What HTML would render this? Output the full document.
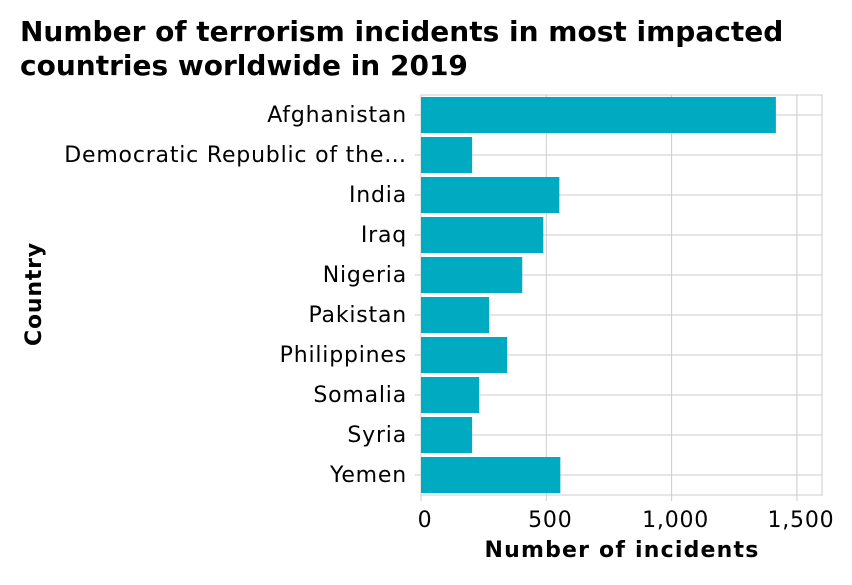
<!DOCTYPE html>
<html><head><meta charset="utf-8"><style>
body{margin:0;background:#fff;font-family:"Liberation Sans","DejaVu Sans",sans-serif;}
</style></head><body>
<svg width="852" height="580" id="chart" font-family="'DejaVu Sans','Liberation Sans',sans-serif">
<text x="20" y="41" font-size="28" font-weight="bold">Number of terrorism incidents in most impacted</text>
<text x="20" y="75" font-size="28" font-weight="bold">countries worldwide in 2019</text>
<text x="0" y="0" font-size="22" font-weight="bold" letter-spacing="0.8" text-anchor="middle" transform="translate(41,294) rotate(-90)">Country</text>
<text x="622" y="557" font-size="22" font-weight="bold" letter-spacing="1.2" text-anchor="middle">Number of incidents</text>
<g id="grid"></g><g id="bars"></g><g id="labels"></g>
</svg>
<script>
const categories=["Afghanistan","Democratic Republic of the…","India","Iraq","Nigeria","Pakistan","Philippines","Somalia","Syria","Yemen"];
const values=[1416,204,552,488,404,272,344,232,204,556];
const ticks=[0,500,1000,1500];
const tickLabels=["0","500","1,000","1,500"];
const NS="http://www.w3.org/2000/svg";
const x0=421,x1=822,yTop=95,yBot=495,maxV=1600;
const xs=v=>x0+v*(x1-x0)/maxV;
const band=(yBot-yTop)/categories.length;
const ys=i=>yTop+i*band;
function mk(t,a,p){const e=document.createElementNS(NS,t);for(const k in a)e.setAttribute(k,a[k]);p.appendChild(e);return e;}
const grid=document.getElementById('grid'),bars=document.getElementById('bars'),labels=document.getElementById('labels');
mk('rect',{x:x0,y:yTop,width:x1-x0,height:yBot-yTop,fill:'none',stroke:'#ccc'},grid);
ticks.forEach((t,i)=>{
 const l=mk('line',{x1:xs(t),x2:xs(t),y1:yTop,y2:yBot+6,stroke:'#ccc'},grid);
 
 
 const tx=mk('text',{x:xs(t)+4,y:527,'font-size':22,'letter-spacing':0.8,'text-anchor':'middle'},labels);
 tx.textContent=tickLabels[i];
 
 
});
categories.forEach((c,i)=>{
 const cy=ys(i)+band/2;
 mk('line',{x1:x0-6,x2:x1,y1:cy,y2:cy,stroke:'#ccc'},grid);
 const r=mk('rect',{x:x0,y:ys(i)+2,width:xs(values[i])-x0,height:band-4,fill:'#00abc1'},bars);
 
 
 const tx=mk('text',{x:407,y:cy+7,'font-size':22,'letter-spacing':0.8,'text-anchor':'end'},labels);
 tx.textContent=c;
 
 
});
</script>
</body></html>
